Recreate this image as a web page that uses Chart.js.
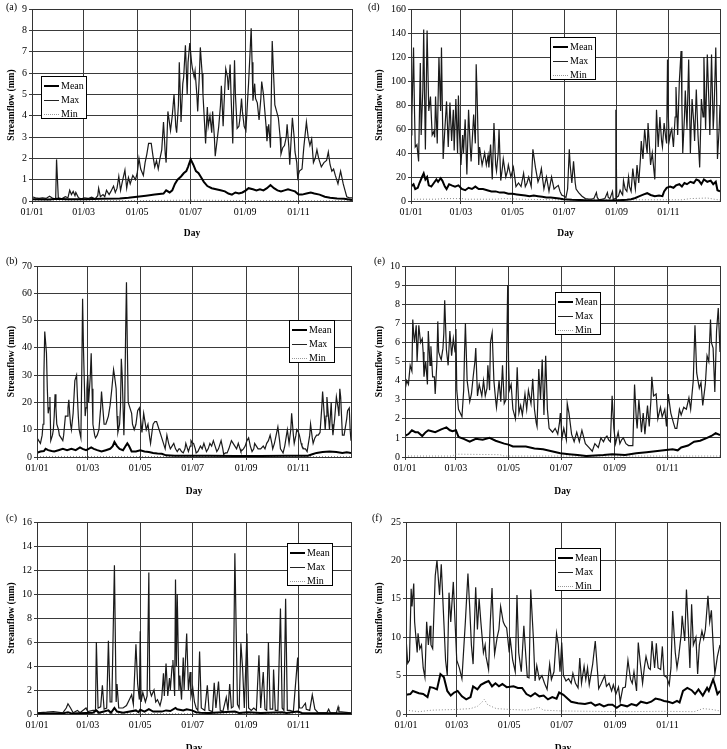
<!DOCTYPE html>
<html>
<head>
<meta charset="utf-8">
<script src="https://cdn.jsdelivr.net/npm/chart.js@4.4.0/dist/chart.umd.min.js"></script>
<style>
  body { margin: 0; background: #fff; width: 727px; height: 749px; overflow: hidden; position: relative; font-family: "Liberation Serif", serif; }
  .cell { position: absolute; }
  .tag { position: absolute; font-size: 10px; color: #000; }
  .lg { position: absolute; width: 46px; height: 43px; border: 1px solid #000; background: #fff; box-sizing: border-box; font-size: 10px; color: #000; }
  .row { position: absolute; left: 19px; height: 14px; line-height: 14px; }
  .ln { position: absolute; left: -17px; top: 6px; width: 15px; height: 0; }
  .mean { border-top: 2px solid #000; }
  .max { border-top: 1px solid #222; top: 7px; }
  .min { border-top: 1px dotted #999; top: 7px; }
</style>
</head>
<body>
<script>
const xTickDays = [0, 59, 120, 181, 243, 304];
const xTickLabels = ['01/01', '01/03', '01/05', '01/07', '01/09', '01/11'];
const seriesNames = ['Mean', 'Max', 'Min'];

// (a)
const aMax = [[0,0.2],[4,0.15],[8,0.12],[12,0.15],[16,0.12],[20,0.22],[24,0.12],[27,0.1],[28,1.95],[30,0.15],[34,0.1],[38,0.2],[41,0.15],[43,0.5],[45,0.3],[47,0.45],[49,0.25],[50,0.4],[53,0.15],[56,0.1],[60,0.15],[64,0.12],[68,0.18],[72,0.1],[75,0.25],[76,0.6],[78,0.2],[81,0.3],[83,0.2],[85,0.5],[88,0.3],[90,0.45],[93,0.7],[95,0.4],[97,0.6],[99,1.15],[101,0.5],[103,0.9],[106,1.45],[108,0.6],[110,1.1],[112,0.8],[115,1.2],[118,1.0],[120,1.3],[122,2.0],[124,1.5],[127,1.2],[129,1.8],[131,2.2],[133,2.7],[136,2.7],[138,2.1],[140,1.6],[142,1.9],[144,1.5],[146,2.0],[148,2.4],[150,3.7],[152,2.2],[153,1.8],[155,4.2],[157,3.6],[158,3.3],[160,4.0],[162,5.0],[164,3.5],[165,3.2],[167,4.5],[168,6.5],[170,3.7],[172,5.5],[173,5.8],[175,7.3],[177,5.0],[178,6.5],[180,7.4],[182,6.5],[183,6.2],[185,5.8],[186,6.1],[188,5.0],[189,4.2],[191,6.0],[192,7.2],[194,6.0],[195,5.0],[197,3.5],[198,2.7],[200,4.4],[201,3.5],[203,4.0],[205,3.2],[206,4.2],[208,3.0],[209,2.1],[211,2.8],[213,3.5],[215,4.5],[216,5.4],[218,3.5],[219,4.5],[221,6.2],[223,5.8],[224,5.2],[226,6.4],[227,5.0],[229,2.7],[231,6.6],[232,5.0],[234,3.4],[236,3.5],[237,3.8],[239,4.8],[240,4.2],[242,3.5],[244,3.3],[246,4.8],[247,5.5],[249,7.2],[250,8.1],[251,6.5],[252,4.7],[254,5.5],[255,4.8],[257,4.6],[259,3.8],[261,4.8],[262,5.6],[264,5.0],[265,4.5],[267,3.5],[268,2.8],[270,3.6],[272,2.5],[274,7.5],[276,5.5],[277,4.5],[279,4.2],[281,3.9],[283,3.0],[284,2.2],[286,2.5],[288,2.6],[290,3.0],[291,3.6],[293,2.5],[294,1.7],[296,3.2],[297,3.9],[299,3.0],[300,2.3],[302,1.8],[303,1.1],[305,1.4],[308,1.5],[310,2.5],[313,3.7],[315,3.0],[317,2.6],[319,2.9],[321,1.8],[323,2.0],[325,2.4],[327,2.0],[330,1.6],[333,1.8],[336,1.9],[338,2.3],[340,1.7],[342,1.4],[344,1.5],[346,1.2],[349,0.8],[351,1.2],[352,1.4],[354,1.0],[355,0.8],[357,0.5],[359,0.2],[362,0.15],[365,0.15]];
const aMean = [[0,0.08],[20,0.07],[28,0.1],[40,0.08],[60,0.08],[80,0.1],[100,0.12],[110,0.15],[120,0.2],[130,0.25],[140,0.3],[150,0.35],[153,0.5],[157,0.4],[160,0.5],[163,0.8],[166,1.0],[170,1.15],[173,1.3],[176,1.4],[178,1.6],[181,1.95],[184,1.7],[187,1.4],[190,1.3],[193,1.1],[196,0.9],[200,0.7],[205,0.6],[210,0.55],[215,0.5],[220,0.45],[224,0.35],[228,0.3],[232,0.4],[236,0.35],[240,0.4],[244,0.5],[247,0.6],[252,0.55],[256,0.5],[260,0.55],[264,0.5],[268,0.6],[272,0.75],[276,0.6],[280,0.5],[284,0.45],[288,0.5],[292,0.55],[296,0.5],[300,0.45],[304,0.3],[308,0.3],[313,0.35],[318,0.4],[322,0.35],[328,0.3],[334,0.2],[340,0.15],[348,0.12],[356,0.1],[365,0.05]];
const aMin = [[0,0.01],[120,0.02],[181,0.04],[250,0.02],[365,0.01]];

// (b)
const bMax = [[0,7],[2,6],[4,5],[6,8],[7,12],[8,30],[9,46],[10,42],[11,38],[12,25],[13,16],[14,18],[15,22],[16,6],[18,8],[19,10],[20,15],[21,23],[22,18],[23,12],[25,10],[26,8],[28,7],[30,6],[31,8],[33,15],[35,15],[36,18],[37,21],[38,16],[39,12],[40,10],[42,16],[44,28],[46,30],[47,22],[48,15],[49,10],[51,7],[52,30],[53,58],[54,40],[56,15],[57,18],[58,25],[59,30],[60,20],[62,30],[63,38],[64,25],[65,12],[67,8],[68,7],[70,8],[72,10],[74,18],[75,24],[76,20],[78,12],[80,12],[81,13],[83,15],[85,19],[87,25],[89,32],[90,30],[92,25],[93,15],[94,9],[96,12],[97,18],[98,36],[99,30],[101,8],[102,20],[103,45],[104,64],[105,40],[106,20],[108,18],[110,16],[111,12],[113,10],[115,12],[117,17],[119,18],[120,15],[122,9],[124,16],[125,14],[127,10],[129,12],[131,7],[132,5],[134,10],[135,12],[137,13],[139,13],[141,11],[142,10],[144,8],[146,6],[148,4],[149,3],[151,8],[153,5],[155,3],[157,4],[159,5],[161,3],[163,2],[165,3],[166,3],[168,2],[170,1.5],[172,3],[173,5],[175,3],[176,2],[178,4],[179,6],[181,5],[182,5],[184,3],[185,1.5],[187,2],[190,4],[192,3],[194,5],[196,3],[197,2],[199,3],[201,5],[203,4],[205,6],[207,4],[209,2],[211,3],[213,5],[214,6],[216,3],[217,1],[219,1.5],[221,1.5],[223,3],[226,6],[228,5],[230,4],[232,3],[234,5],[236,3],[237,2],[240,3],[242,4],[244,6],[246,7],[248,4],[250,2],[252,3],[253,5],[255,4],[257,3],[260,3],[263,4],[265,3],[267,5],[269,6],[271,8],[273,5],[274,3],[276,5],[278,8],[280,11],[282,6],[283,3],[285,2],[286,1.5],[288,4],[290,8],[291,10],[293,5],[295,10],[296,16],[298,8],[299,5],[301,8],[302,10],[304,9],[305,8],[307,5],[308,4],[310,3],[312,3],[314,2],[315,2],[317,8],[318,12],[320,7],[321,5],[323,7],[325,8],[327,8],[329,9],[331,18],[332,24],[334,15],[335,10],[336,15],[337,22],[339,14],[340,10],[342,20],[343,12],[344,8],[346,14],[348,22],[350,18],[351,15],[352,25],[353,22],[355,8],[357,8],[358,8],[360,14],[361,17],[363,18],[364,10],[365,6]];
const bMean = [[0,1.5],[4,2],[8,2.2],[10,3],[13,2.5],[17,2.2],[20,2],[25,2.5],[30,3],[35,2.5],[40,3],[45,2.5],[50,3.5],[53,3],[57,2.5],[60,3],[63,3.5],[66,3],[70,2.5],[75,2],[80,2.5],[85,3],[88,4],[90,5.5],[93,4],[96,3],[100,2.5],[103,4],[105,5],[107,4],[110,2],[115,2],[120,2.5],[125,2],[130,1.8],[135,1.5],[140,1.3],[145,1.2],[150,0.6],[160,0.5],[180,0.5],[200,0.5],[230,0.4],[260,0.4],[290,0.5],[305,0.5],[315,0.5],[320,1],[325,1.5],[332,1.8],[340,2],[348,1.8],[355,1.5],[360,1.7],[365,1.5]];
const bMin = [[0,0.2],[100,0.2],[200,0.15],[300,0.15],[365,0.2]];

// (c)
const cMax = [[0,0.1],[11,0.15],[19,0.2],[30,0.1],[34,0.5],[36,0.85],[39,0.5],[42,0.1],[47,0.3],[50,0.1],[57,0.5],[59,0.2],[65,0.3],[68,0.3],[69,6.0],[71,0.5],[74,0.6],[76,2.4],[78,0.4],[81,0.5],[83,6.1],[85,1.0],[87,1.0],[90,12.4],[92,1.0],[93,2.5],[95,0.5],[100,0.5],[104,0.7],[108,1.3],[110,1.6],[112,0.8],[115,5.8],[117,2.5],[119,1.2],[120,6.9],[121,1.0],[123,1.8],[126,1.0],[128,1.5],[130,11.8],[131,2.0],[133,1.5],[136,2.0],[138,1.0],[140,1.2],[143,0.7],[145,1.3],[147,3.4],[148,1.5],[150,4.2],[152,1.5],[154,3.0],[155,2.0],[157,4.0],[158,4.5],[160,1.5],[161,11.2],[162,4.0],[163,10.0],[165,2.0],[166,3.2],[168,1.2],[170,4.7],[171,2.0],[174,6.7],[176,2.0],[178,3.5],[179,1.5],[181,2.2],[183,1.0],[185,0.5],[187,0.3],[189,5.2],[191,0.5],[195,0.3],[198,2.4],[200,0.3],[204,0.2],[206,2.6],[208,0.5],[211,2.7],[213,0.3],[216,0.2],[220,1.4],[222,0.3],[224,2.5],[226,0.5],[228,0.6],[230,13.4],[233,0.8],[235,0.5],[237,5.9],[239,3.8],[241,0.5],[244,6.7],[246,0.5],[249,0.3],[252,0.5],[255,0.3],[258,4.9],[260,0.5],[263,3.5],[265,0.4],[267,0.3],[269,6.0],[271,0.4],[274,0.4],[275,3.7],[277,0.3],[280,0.3],[283,8.8],[285,0.5],[287,0.3],[289,9.6],[291,0.3],[294,0.3],[298,0.2],[303,4.7],[305,0.5],[308,0.5],[312,0.9],[313,0.4],[317,0.3],[320,1.6],[323,0.4],[327,0.1],[337,0.1],[339,0.4],[341,0.1],[348,0.1],[350,0.6],[351,0.2],[365,0.1]];
const cMean = [[0,0.05],[30,0.05],[36,0.15],[40,0.05],[65,0.1],[69,0.3],[72,0.1],[83,0.3],[86,0.1],[90,0.5],[93,0.2],[100,0.1],[115,0.3],[118,0.15],[120,0.35],[125,0.2],[130,0.4],[135,0.2],[145,0.2],[150,0.3],[155,0.25],[161,0.5],[163,0.4],[170,0.3],[174,0.4],[180,0.3],[185,0.15],[190,0.1],[200,0.08],[230,0.2],[235,0.08],[245,0.15],[260,0.08],[285,0.15],[290,0.08],[303,0.2],[308,0.08],[365,0.05]];
const cMin = [[0,0.02],[365,0.02]];

// (d)
const dMax = [[0,55],[1,70],[3,128],[4,80],[5,45],[7,47],[9,33],[11,115],[12,55],[14,93],[15,143],[16,90],[17,43],[19,142],[21,75],[23,87],[25,55],[27,58],[28,53],[29,87],[31,48],[33,120],[35,75],[36,128],[37,80],[38,35],[40,60],[42,83],[44,45],[46,82],[48,50],[50,76],[51,42],[53,85],[55,40],[56,88],[57,60],[59,30],[61,55],[62,40],[64,68],[66,22],[68,76],[70,45],[71,33],[74,72],[76,48],[77,114],[78,90],[80,30],[81,45],[83,35],[84,30],[87,40],[89,30],[91,38],[92,28],[94,47],[96,18],[98,65],[100,30],[101,25],[103,40],[104,60],[106,17],[108,28],[109,35],[112,20],[114,25],[115,30],[118,20],[121,28],[124,12],[127,15],[130,12],[133,23],[135,12],[137,15],[139,20],[142,12],[144,43],[145,38],[147,28],[150,16],[152,20],[154,27],[157,10],[160,20],[163,8],[166,20],[169,10],[172,12],[174,13],[176,8],[178,5],[181,4],[183,3],[185,10],[187,43],[188,30],[190,15],[192,33],[194,15],[195,10],[198,7],[202,4],[206,2],[210,1.5],[213,1.5],[216,2],[219,7],[220,3],[222,1],[226,1.5],[229,2],[232,7],[233,3],[235,2],[238,8],[239,1],[241,2],[242,76],[243,3],[245,4],[247,9],[249,6],[250,5],[251,17],[253,10],[255,8],[257,20],[258,12],[260,8],[262,27],[264,15],[265,10],[267,30],[269,15],[271,35],[272,50],[274,35],[276,60],[278,45],[279,40],[280,65],[282,42],[283,30],[285,40],[287,25],[288,18],[290,76],[292,45],[294,70],[296,50],[297,45],[299,65],[301,52],[302,48],[303,118],[304,70],[305,50],[307,58],[308,60],[310,45],[312,70],[313,95],[315,55],[317,100],[319,125],[320,80],[321,40],[323,70],[324,92],[326,60],[328,118],[329,80],[330,40],[332,85],[334,65],[335,50],[337,93],[339,55],[341,28],[343,85],[345,70],[346,120],[348,60],[350,122],[352,80],[353,55],[355,122],[357,60],[358,75],[360,128],[361,90],[362,35],[364,60],[365,80]];
const dMean = [[0,12],[3,14],[5,10],[8,11],[10,15],[13,20],[15,23],[17,18],[19,20],[21,13],[24,12],[27,15],[30,18],[32,16],[35,19],[37,17],[40,12],[42,10],[45,14],[48,13],[52,12],[56,13],[60,10],[64,9],[68,11],[72,10],[76,12],[80,10],[85,10],[90,9],[95,8],[100,8],[105,7],[110,7],[115,6],[120,6],[125,5.5],[130,5],[135,4.5],[140,4],[145,4.5],[150,4],[155,3.5],[160,3],[165,3],[170,2.5],[175,2],[180,1.5],[190,1],[200,0.8],[210,0.5],[225,0.5],[240,0.5],[250,0.8],[255,1],[260,1.5],[265,2.5],[270,4],[275,5.5],[279,6.5],[283,5],[288,4],[293,4.5],[297,4],[299,8],[302,11],[306,12],[310,11],[313,13],[317,14],[320,12],[323,15],[326,14],[330,16],[334,15],[337,18],[340,17],[343,14],[346,18],[350,16],[354,17],[357,14],[360,16],[362,9],[365,8]];
const dMin = [[0,1.5],[30,1.5],[38,2],[60,2],[65,1.5],[100,1.5],[110,2],[130,1.5],[170,1],[250,1],[300,1],[320,1],[330,2],[350,2.5],[358,1.5],[365,0.8]];

// (e)
const eMax = [[0,3.5],[2,4],[4,3.8],[6,4.8],[8,4.5],[9,7.2],[10,6.5],[11,6.0],[13,6.9],[14,5.0],[16,6.9],[18,6.0],[20,6.2],[21,5.5],[22,4.2],[24,5.0],[26,3.8],[27,6.6],[29,4.8],[30,5.8],[32,4.2],[34,4.2],[35,3.3],[37,5.0],[38,7.1],[39,5.5],[41,5.2],[42,5.1],[44,5.7],[45,6.5],[46,8.2],[48,5.6],[50,4.8],[52,6.6],[54,5.3],[56,6.2],[58,5.5],[59,6.7],[60,3.5],[62,2.5],[64,2.3],[66,2.1],[68,3.5],[69,5.5],[70,7.0],[72,4.0],[74,3.3],[75,2.9],[77,3.3],[79,4.2],[81,5.0],[82,5.7],[84,3.2],[86,3.8],[89,3.2],[91,4.0],[93,3.2],[95,3.6],[96,4.8],[98,3.5],[99,6.0],[101,6.5],[103,4.0],[105,3.0],[106,2.6],[108,3.5],[109,4.0],[111,2.9],[113,4.8],[115,2.8],[117,3.0],[118,6.0],[119,9.0],[120,5.0],[121,3.5],[123,3.8],[125,2.5],[128,2.0],[130,4.7],[132,2.3],[134,2.7],[136,2.2],[139,3.3],[141,2.5],[143,3.5],[146,2.8],[148,4.1],[150,2.5],[152,1.8],[153,1.6],[155,4.6],[157,3.0],[159,5.1],[161,2.2],[163,5.3],[165,2.5],[167,1.5],[169,1.4],[171,1.3],[174,1.5],[177,1.2],[179,1.8],[180,2.3],[182,1.0],[184,1.5],[187,0.9],[188,2.8],[190,2.3],[193,1.2],[196,0.8],[199,1.3],[202,0.8],[205,1.4],[209,0.7],[213,0.5],[217,0.3],[220,0.7],[222,0.6],[224,0.5],[227,1.0],[230,0.8],[232,1.0],[234,1.1],[236,0.9],[238,0.8],[240,3.2],[242,1.5],[244,0.7],[247,1.3],[249,0.7],[251,0.9],[253,1.0],[256,0.7],[259,0.6],[262,0.6],[264,0.6],[266,3.8],[268,2.0],[269,1.5],[271,3.0],[274,1.3],[276,2.3],[278,1.2],[281,2.7],[283,1.6],[285,3.0],[286,4.2],[288,3.2],[291,3.3],[293,2.0],[296,2.6],[298,2.1],[301,2.5],[303,1.6],[305,3.3],[308,2.3],[311,1.8],[313,1.5],[315,1.5],[318,2.5],[320,2.2],[323,2.6],[326,2.5],[329,3.1],[331,2.5],[334,4.0],[336,6.9],[338,4.4],[341,3.6],[343,3.9],[345,2.7],[348,3.8],[350,5.3],[352,5.0],[354,7.2],[355,6.0],[357,5.7],[359,3.4],[361,6.6],[363,7.8],[365,5.5]];
const eMean = [[0,1.1],[4,1.2],[8,1.4],[12,1.3],[15,1.3],[20,1.1],[24,1.3],[27,1.4],[31,1.35],[35,1.3],[42,1.45],[48,1.55],[52,1.4],[55,1.35],[59,1.4],[62,1.05],[68,0.95],[75,0.8],[82,0.95],[90,0.9],[98,1.0],[105,0.85],[115,0.7],[120,0.65],[125,0.55],[140,0.55],[150,0.45],[160,0.4],[170,0.3],[180,0.2],[190,0.15],[200,0.1],[210,0.05],[230,0.1],[240,0.15],[255,0.1],[268,0.2],[280,0.25],[290,0.3],[300,0.35],[310,0.4],[316,0.35],[320,0.5],[328,0.6],[335,0.8],[342,0.85],[350,1.0],[355,1.1],[360,1.25],[365,1.15]];
const eMin = [[0,0.05],[55,0.05],[58,0.15],[110,0.12],[115,0.05],[365,0.05]];

// (f)
const fMax = [[0,10],[2,6.6],[4,7.0],[6,16.3],[7,14],[9,17],[10,12],[13,8],[14,10.5],[16,8.5],[18,9.0],[20,6],[22,4.8],[24,12],[26,9],[28,11.5],[29,9],[31,8.5],[34,18],[36,20],[38,17],[39,15.5],[41,19.5],[44,12],[46,7],[48,5],[50,15.8],[52,12],[55,17.2],[57,12],[59,7],[62,6],[65,4.6],[69,12],[72,18.3],[74,14],[76,9],[78,6.5],[81,16.5],[83,11],[85,15],[87,12],[90,8],[92,9],[93,7.5],[96,5.8],[98,12],[100,16.4],[102,10],[103,7.8],[106,10],[108,11],[110,14],[113,12],[115,11.5],[117,11.2],[120,8],[121,10],[124,7],[127,5.5],[129,15.5],[131,8],[134,5.5],[137,11.5],[139,8],[141,4.8],[143,4.7],[145,16.2],[148,10],[150,4.3],[152,6.3],[155,4.5],[158,5],[161,4],[164,3.2],[167,6.5],[169,4.5],[172,5.5],[175,10.5],[177,9],[179,5.5],[181,9.3],[183,5],[186,4.3],[189,4.6],[192,4.0],[194,5.3],[197,4.0],[200,3.4],[202,7.3],[204,4.0],[207,6.2],[209,4.5],[211,6.0],[213,3.8],[217,6.5],[220,9.5],[222,6.5],[224,3.3],[227,4.0],[231,5.0],[233,3.6],[236,4.0],[239,3.0],[241,3.8],[244,2.6],[247,3.5],[249,1.6],[252,3.4],[255,3.5],[258,7.0],[261,4.5],[263,4.0],[265,5.5],[268,3.0],[270,9.3],[272,7.0],[275,4.0],[277,6.0],[279,7.5],[282,6.0],[284,5.8],[286,9.5],[289,6.0],[291,9.2],[293,6.0],[296,5.8],[298,8.8],[300,5.0],[303,4.8],[306,3.8],[308,6.0],[310,13.4],[313,8.0],[315,6.0],[317,7.5],[320,10.5],[321,12.8],[324,9.5],[326,16.2],[328,11.5],[330,6.0],[332,14.3],[334,9.0],[337,10],[339,5.2],[341,9.0],[344,10.8],[346,9.8],[348,11],[351,15.4],[353,12],[355,13.5],[357,9],[359,5.2],[362,7.5],[365,9]];
const fMean = [[0,2.5],[5,2.6],[8,3.0],[15,2.7],[20,2.6],[25,2.2],[28,3.5],[32,3.4],[36,3.2],[40,5.2],[44,4.8],[48,3.0],[52,2.4],[56,2.8],[60,3.0],[65,2.3],[70,1.9],[75,2.2],[78,3.6],[83,3.2],[87,3.8],[92,4.1],[96,4.3],[100,3.6],[104,4.0],[108,3.6],[112,3.9],[117,3.5],[125,3.6],[130,3.4],[135,3.4],[140,2.6],[145,2.3],[150,2.7],[155,2.3],[160,2.4],[165,1.9],[170,2.2],[175,2.0],[178,2.8],[183,2.5],[188,2.0],[192,1.6],[200,1.4],[208,1.3],[215,1.5],[220,1.1],[225,1.3],[230,1.0],[235,1.2],[240,1.2],[245,0.8],[250,1.2],[257,1.0],[262,1.3],[268,1.1],[273,1.6],[280,1.4],[285,1.6],[290,2.0],[295,1.9],[300,1.7],[305,1.6],[310,1.4],[315,1.7],[318,1.5],[322,3.0],[327,3.4],[332,3.1],[336,2.6],[340,3.2],[345,2.4],[350,3.4],[352,3.0],[357,4.5],[359,3.8],[362,2.6],[365,3.0]];
const fMin = [[0,0.5],[15,0.3],[30,0.5],[60,0.6],[75,0.7],[83,1.0],[88,1.5],[91,1.9],[95,1.2],[105,0.7],[120,0.6],[140,0.5],[150,0.7],[154,0.9],[160,0.5],[180,0.4],[250,0.3],[300,0.35],[335,0.3],[345,0.7],[355,0.6],[365,0.4]];

const panels = [
  { tag: '(a)', data: [aMean, aMax, aMin], yMax: 9, yStep: 1,
    cell: { x: 0, y: 0, w: 362, h: 245 }, area: { l: 32, t: 9, r: 352, b: 201 }, dayOff: 33, titleX: 12,
    tagPos: [6, 1], legend: [41, 76] },
  { tag: '(b)', data: [bMean, bMax, bMin], yMax: 70, yStep: 10,
    cell: { x: 0, y: 245, w: 362, h: 260 }, area: { l: 37, t: 21, r: 351, b: 212 }, dayOff: 35, titleX: 12,
    tagPos: [6, 255], legend: [289, 320] },
  { tag: '(c)', data: [cMean, cMax, cMin], yMax: 16, yStep: 2,
    cell: { x: 0, y: 505, w: 362, h: 252 }, area: { l: 37, t: 17, r: 351, b: 209 }, dayOff: 35, titleX: 12,
    tagPos: [6, 512], legend: [287, 543] },
  { tag: '(d)', data: [dMean, dMax, dMin], yMax: 160, yStep: 20,
    cell: { x: 362, y: 0, w: 365, h: 245 }, area: { l: 49, t: 9, r: 358, b: 201 }, dayOff: 33, titleX: 18,
    tagPos: [368, 1], legend: [550, 37] },
  { tag: '(e)', data: [eMean, eMax, eMin], yMax: 10, yStep: 1,
    cell: { x: 362, y: 245, w: 365, h: 260 }, area: { l: 43, t: 21, r: 358, b: 212 }, dayOff: 35, titleX: 18,
    tagPos: [374, 255], legend: [555, 292] },
  { tag: '(f)', data: [fMean, fMax, fMin], yMax: 25, yStep: 5,
    cell: { x: 362, y: 505, w: 365, h: 252 }, area: { l: 44, t: 17, r: 358, b: 209 }, dayOff: 35, titleX: 18,
    tagPos: [372, 512], legend: [555, 548] }
];

const styles = [
  { borderColor: '#000', borderWidth: 2, borderDash: [] },
  { borderColor: '#1a1a1a', borderWidth: 1.2, borderDash: [] },
  { borderColor: '#888', borderWidth: 1, borderDash: [1, 2] }
];

const frame = {
  id: 'frame',
  afterDatasetsDraw(chart) {
    const a = chart.chartArea, ctx = chart.ctx;
    ctx.save();
    ctx.strokeStyle = '#333';
    ctx.lineWidth = 1;
    ctx.strokeRect(Math.round(a.left) + 0.5, Math.round(a.top) + 0.5, Math.round(a.right - a.left), Math.round(a.bottom - a.top));
    ctx.restore();
  }
};

const tickFont = { family: 'Liberation Serif', size: 10 };
const titleFont = { family: 'Liberation Serif', size: 9.5, weight: 'bold' };

panels.forEach((p) => {
  const div = document.createElement('div');
  div.className = 'cell';
  div.style.left = p.cell.x + 'px';
  div.style.top = p.cell.y + 'px';
  const cv = document.createElement('canvas');
  cv.width = p.cell.w;
  cv.height = p.cell.h;
  div.appendChild(cv);
  document.body.appendChild(div);

  const xh = p.dayOff + 5.7;
  new Chart(cv, {
    type: 'line',
    data: {
      datasets: p.data.map((d, i) => ({
        label: seriesNames[i],
        data: d.map(([x, y]) => ({ x, y })),
        ...styles[i],
        pointRadius: 0,
        tension: 0,
        fill: false
      }))
    },
    options: {
      responsive: false,
      animation: false,
      layout: { padding: { left: 0, top: p.area.t, right: p.cell.w - p.area.r, bottom: p.cell.h - p.area.b - xh } },
      plugins: { legend: { display: false }, tooltip: { enabled: false } },
      scales: {
        x: {
          type: 'linear', min: 0, max: 365,
          afterBuildTicks: (s) => { s.ticks = xTickDays.map(v => ({ value: v })); },
          afterFit: (s) => { s.height = xh; },
          ticks: { font: tickFont, color: '#000', padding: 2, maxRotation: 0,
                   callback: (v) => xTickLabels[xTickDays.indexOf(v)] },
          grid: { color: '#3a3a3a', tickLength: 3 },
          border: { color: '#222' },
          title: { display: true, text: 'Day', font: titleFont, color: '#000', padding: { top: 0, bottom: 0 } }
        },
        y: {
          min: 0, max: p.yMax,
          afterFit: (s) => { s.width = p.area.l; },
          ticks: { stepSize: p.yStep, font: tickFont, color: '#000', padding: 2 },
          grid: { color: '#3a3a3a', tickLength: 3 },
          border: { color: '#222' },
          title: { display: true, text: 'Streamflow (mm)', font: titleFont, color: '#000',
                   padding: { top: p.titleX - 5.7, bottom: 0 } }
        }
      }
    },
    plugins: [frame]
  });

  const tag = document.createElement('div');
  tag.className = 'tag';
  tag.style.left = p.tagPos[0] + 'px';
  tag.style.top = p.tagPos[1] + 'px';
  tag.textContent = p.tag;
  document.body.appendChild(tag);

  const lg = document.createElement('div');
  lg.className = 'lg';
  lg.style.left = p.legend[0] + 'px';
  lg.style.top = p.legend[1] + 'px';
  lg.innerHTML = seriesNames.map((n, i) =>
    `<div class="row" style="top:${2 + i * 14}px"><span class="ln ${n.toLowerCase()}"></span>${n}</div>`).join('');
  document.body.appendChild(lg);
});
</script>
</body>
</html>
